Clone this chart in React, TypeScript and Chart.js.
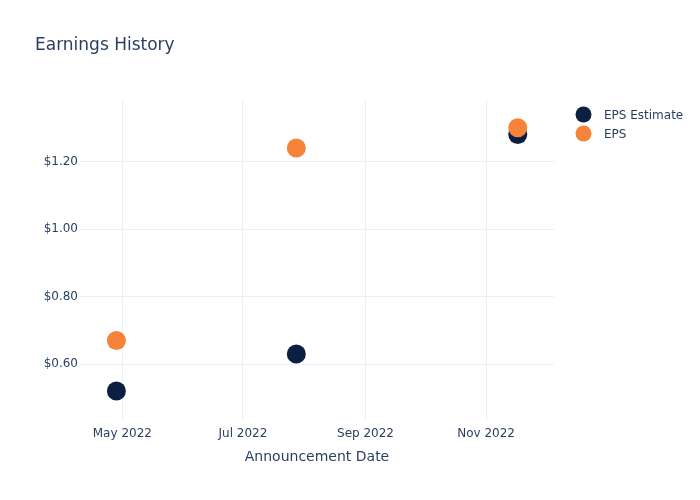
import React, { useEffect, useRef } from "react";
import { Chart, registerables } from "chart.js";

Chart.register(...registerables);

const announcementDates = ["2022-04-28", "2022-07-28", "2022-11-17"];
const epsEstimate = [0.52, 0.63, 1.28];
const epsActual = [0.67, 1.24, 1.3];
const xTickDates = ["2022-05-01", "2022-07-01", "2022-09-01", "2022-11-01"];
const xTickLabels = ["May 2022", "Jul 2022", "Sep 2022", "Nov 2022"];
const yTickValues = [0.6, 0.8, 1.0, 1.2];
const xRange = ["2022-04-09T14:00:00", "2022-12-05T08:00:00"];
const yRange = [0.4343, 1.3825];

const FONT = "'DejaVu Sans', Verdana, sans-serif";
const TEXT = "#2a3f5f";
const NAVY = "#0c1f40";
const ORANGE = "#f7823a";
const GRID = "#ebf0f8";

const ts = (s: string) => {
  const [d, t] = s.split("T");
  const [y, m, dd] = d.split("-").map(Number);
  let h = 0, mi = 0;
  if (t) { const p = t.split(":").map(Number); h = p[0]; mi = p[1]; }
  return Date.UTC(y, m - 1, dd, h, mi);
};

const overlay = {
  id: "overlay",
  afterDraw(chart: any) {
    const ctx = chart.ctx;
    const ca = chart.chartArea;
    ctx.save();
    ctx.fillStyle = TEXT;
    ctx.textBaseline = "middle";
    ctx.textAlign = "left";
    ctx.font = `17px ${FONT}`;
    ctx.fillText("Earnings History", 35, 45.5);
    ctx.font = `14px ${FONT}`;
    ctx.textAlign = "center";
    ctx.fillText("Announcement Date", (ca.left + ca.right) / 2, 457);
    // legend
    const items = [
      { label: "EPS Estimate", color: NAVY, y: 114.5 },
      { label: "EPS", color: ORANGE, y: 133.5 },
    ];
    ctx.font = `12px ${FONT}`;
    ctx.textAlign = "left";
    for (const it of items) {
      ctx.beginPath();
      ctx.arc(583.5, it.y, 8, 0, Math.PI * 2);
      ctx.fillStyle = it.color;
      ctx.fill();
      ctx.fillStyle = TEXT;
      ctx.fillText(it.label, 604, it.y + 1);
    }
    ctx.restore();
  },
};

export default function App() {
  const ref = useRef<HTMLCanvasElement>(null);
  useEffect(() => {
    if (!ref.current) return;
    const xs = announcementDates.map(ts);
    const chart = new Chart(ref.current, {
      type: "scatter",
      data: {
        datasets: [
          {
            label: "EPS Estimate",
            data: xs.map((x, i) => ({ x, y: epsEstimate[i] })),
            backgroundColor: NAVY,
            borderColor: NAVY,
            pointRadius: 9.5,
            pointHoverRadius: 9.5,
            borderWidth: 0,
            order: 1,
          },
          {
            label: "EPS",
            data: xs.map((x, i) => ({ x, y: epsActual[i] })),
            backgroundColor: ORANGE,
            borderColor: ORANGE,
            pointRadius: 9.5,
            pointHoverRadius: 9.5,
            borderWidth: 0,
            order: 0,
          },
        ],
      },
      options: {
        animation: false,
        responsive: false,
        layout: { padding: { left: 0, right: 146, top: 100, bottom: 0 } },
        plugins: {
          legend: { display: false },
          title: { display: false },
          tooltip: { enabled: false },
        },
        scales: {
          x: {
            type: "linear",
            min: ts(xRange[0]),
            max: ts(xRange[1]),
            border: { display: false },
            grid: { color: GRID, lineWidth: 1, drawTicks: false },
            afterBuildTicks: (scale: any) => {
              scale.ticks = xTickDates.map((d) => ({ value: ts(d) }));
            },
            afterFit: (scale: any) => {
              scale.height = 80;
            },
            ticks: {
              autoSkip: false,
              maxRotation: 0,
              padding: 7,
              color: TEXT,
              font: { family: FONT, size: 12 },
              callback: (v: any) => {
                const i = xTickDates.findIndex((d) => ts(d) === v);
                return i >= 0 ? xTickLabels[i] : "";
              },
            },
          },
          y: {
            type: "linear",
            min: yRange[0],
            max: yRange[1],
            border: { display: false },
            grid: { color: GRID, lineWidth: 1, drawTicks: false },
            afterBuildTicks: (scale: any) => {
              scale.ticks = yTickValues.map((v) => ({ value: v }));
            },
            afterFit: (scale: any) => {
              scale.width = 80;
            },
            ticks: {
              autoSkip: false,
              padding: 2,
              color: TEXT,
              font: { family: FONT, size: 12 },
              callback: (v: any) => "$" + Number(v).toFixed(2),
            },
          },
        },
      },
      plugins: [overlay],
    });
    return () => chart.destroy();
  }, []);
  return (
    <div style={{ position: "absolute", left: 0, top: 0, width: 700, height: 500, background: "#fff" }}>
      <canvas ref={ref} width={700} height={500} style={{ width: 700, height: 500 }} />
    </div>
  );
}
